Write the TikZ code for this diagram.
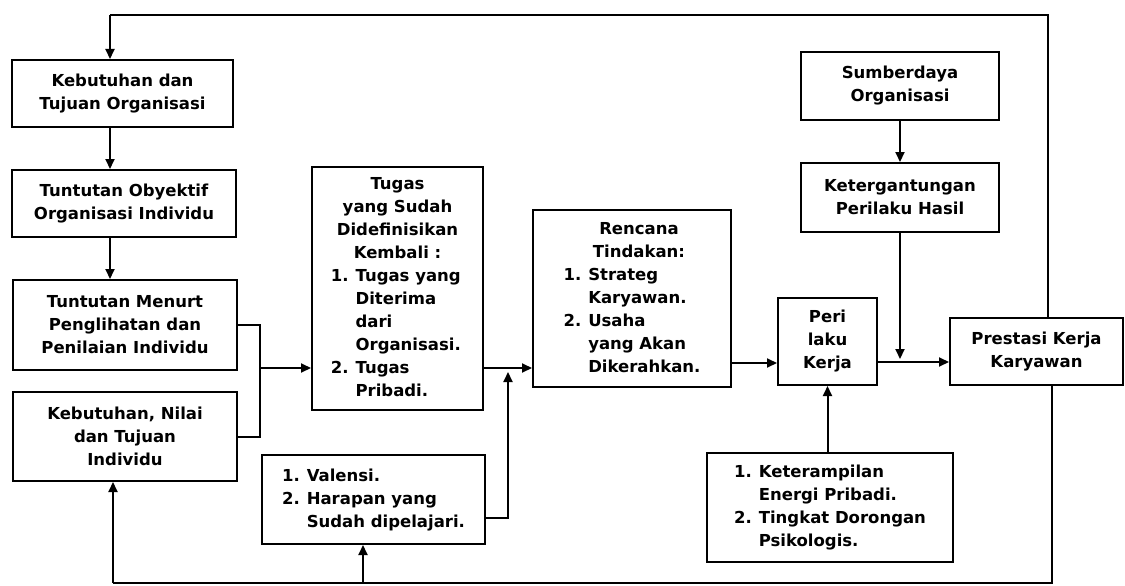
\documentclass[tikz,border=0pt]{standalone}
\usepackage{fontspec}
\setmainfont{DejaVu Sans}
\usetikzlibrary{arrows.meta}
\begin{document}
\begin{tikzpicture}[x=1pt,y=-1pt,
  box/.style={draw, line width=2pt, inner sep=0pt, align=center,
    font=\fontsize{16.5}{23}\selectfont\bfseries},
  conn/.style={line width=2pt},
  arr/.style={conn, -{Triangle[length=10pt,width=9pt]}}]
\useasboundingbox (0,0) rectangle (1125,586);
% boxes
\node[box, minimum width=221pt, minimum height=67pt] (K1) at (122.5,93.5)
  {Kebutuhan dan\\Tujuan Organisasi};
\node[box, minimum width=224pt, minimum height=67pt] (K2) at (124,203.5)
  {Tuntutan Obyektif\\Organisasi Individu};
\node[box, minimum width=224pt, minimum height=90pt] (K3) at (125,325)
  {Tuntutan Menurt\\Penglihatan dan\\Penilaian Individu};
\node[box, minimum width=224pt, minimum height=89pt] (K4) at (125,436.5)
  {Kebutuhan, Nilai\\dan Tujuan\\Individu};
\node[box, minimum width=171pt, minimum height=243pt] (T) at (397.5,288.5)
  {\begin{tabular}{@{}r@{\hspace{7pt}}l@{}}
   \multicolumn{2}{c}{Tugas}\\
   \multicolumn{2}{c}{yang Sudah}\\
   \multicolumn{2}{c}{Didefinisikan}\\
   \multicolumn{2}{c}{Kembali :}\\
   1.& Tugas yang\\
     & Diterima\\
     & dari\\
     & Organisasi.\\
   2.& Tugas\\
     & Pribadi.
   \end{tabular}};
\node[box, minimum width=198pt, minimum height=177pt] (R) at (632,298.5)
  {\begin{tabular}{@{}r@{\hspace{7pt}}l@{}}
   \multicolumn{2}{c}{\hspace{14pt}Rencana}\\
   \multicolumn{2}{c}{\hspace{14pt}Tindakan:}\\
   1.& Strateg\\
     & Karyawan.\\
   2.& Usaha\\
     & yang Akan\\
     & Dikerahkan.
   \end{tabular}};
\node[box, minimum width=99pt, minimum height=87pt] (PK) at (827.5,341.5)
  {Peri\\laku\\Kerja};
\node[box, minimum width=198pt, minimum height=68pt] (SO) at (900,86)
  {Sumberdaya\\Organisasi};
\node[box, minimum width=198pt, minimum height=69pt] (KH) at (900,197.5)
  {Ketergantungan\\Perilaku Hasil};
\node[box, minimum width=173pt, minimum height=67pt] (PR) at (1036.5,351.5)
  {Prestasi Kerja\\Karyawan};
\node[box, minimum width=246pt, minimum height=109pt] (KE) at (830,507.5)
  {\begin{tabular}{@{}r@{\hspace{7pt}}l@{}}
   1.& Keterampilan\\
     & Energi Pribadi.\\
   2.& Tingkat Dorongan\\
     & Psikologis.
   \end{tabular}};
\node[box, minimum width=223pt, minimum height=89pt] (V) at (373.5,499.5)
  {\begin{tabular}{@{}r@{\hspace{7pt}}l@{}}
   1.& Valensi.\\
   2.& Harapan yang\\
     & Sudah dipelajari.
   \end{tabular}};
% coordinates
\coordinate (cL) at (110,0);
\coordinate (top) at (110,15);
\coordinate (cR) at (1048,0);
\coordinate (jx) at (260,368);
\coordinate (m) at (508,368);
\coordinate (vj) at (508,518);
\coordinate (mu) at (508,372);
\coordinate (rp) at (750,363);
\coordinate (pp) at (900,362);
\coordinate (ppu) at (900,359);
\coordinate (b1) at (1052,583);
\coordinate (b2) at (113,583);
\coordinate (b3) at (363,583);
% connectors
\draw[conn] (PR.north -| cR) -- (cR |- top) -- (top);
\draw[arr] (top) -- (K1.north -| cL);
\draw[arr] (K1.south -| cL) -- (K2.north -| cL);
\draw[arr] (K2.south -| cL) -- (K3.north -| cL);
\draw[conn] (K3.east) -| (jx) |- (K4.east);
\draw[arr] (jx) -- (T.west |- jx);
\draw[arr] (T.east |- m) -- (R.west |- m);
\draw[arr] (V.east |- vj) -- (vj) -- (mu);
\draw[arr] (R.east |- rp) -- (PK.west |- rp);
\draw[arr] (PK.east |- pp) -- (PR.west |- pp);
\draw[arr] (SO.south) -- (SO.south |- KH.north);
\draw[arr] (KH.south) -- (KH.south |- ppu);
\draw[arr] (KE.north -| PK.south) -- (PK.south);
\draw[conn] (PR.south -| b1) -- (b1) -- (b2);
\draw[arr] (b2) -- (K4.south -| b2);
\draw[arr] (b3) -- (V.south -| b3);
\end{tikzpicture}
\end{document}
